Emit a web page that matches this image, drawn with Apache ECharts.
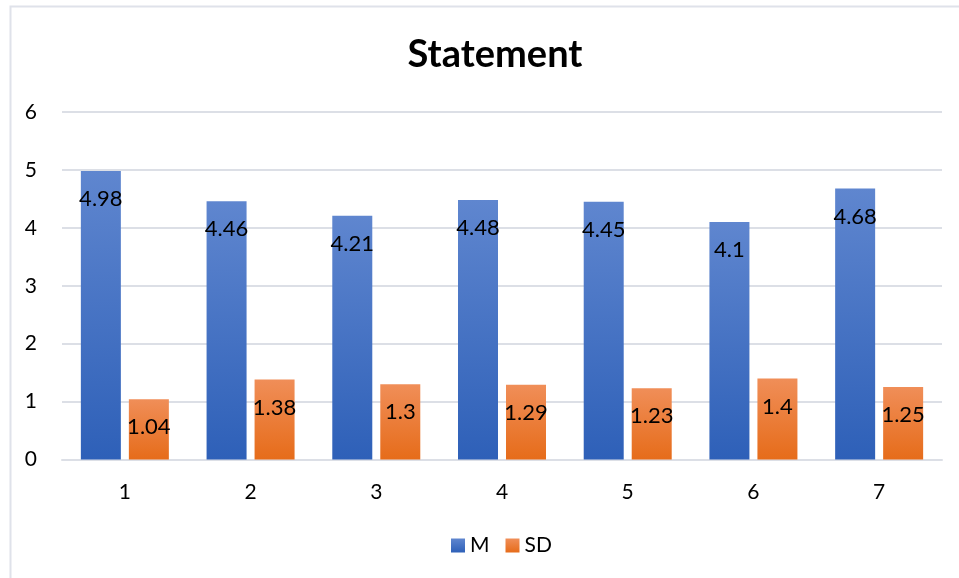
<!DOCTYPE html>
<html>
<head>
<meta charset="utf-8">
<script src="https://cdn.jsdelivr.net/npm/echarts@6/dist/echarts.min.js"></script>
<style>
  html, body { margin: 0; padding: 0; background: #fff; }
  #chart { width: 959px; height: 578px; }
</style>
</head>
<body>
<div id="chart"></div>
<script>
// Statement means and standard deviations
const categories = ['1', '2', '3', '4', '5', '6', '7'];
const meanValues = [4.98, 4.46, 4.21, 4.48, 4.45, 4.1, 4.68];
const sdValues = [1.04, 1.38, 1.3, 1.29, 1.23, 1.4, 1.25];
const seriesNames = ['M', 'SD'];

const FONT = 'Lato, "Open Sans", sans-serif';

function vGrad(top, bottom) {
  return new echarts.graphic.LinearGradient(0, 0, 0, 1, [
    { offset: 0, color: top },
    { offset: 1, color: bottom }
  ]);
}

const labelStyle = {
  show: true,
  position: 'insideTop',
  distance: 17,
  color: '#000',
  fontFamily: FONT,
  fontSize: 22
};

const chart = echarts.init(document.getElementById('chart'), null, { renderer: 'canvas' });
chart.setOption({
  backgroundColor: '#fff',
  animation: false,
  title: {
    text: 'Statement',
    left: 490,
    textAlign: 'center',
    top: 31,
    textStyle: { fontFamily: FONT, fontWeight: 'bold', fontSize: 38, color: '#000' }
  },
  graphic: [{
    type: 'rect',
    shape: { x: 10.5, y: 6.5, width: 1000, height: 1000 },
    style: { fill: 'none', stroke: '#dfe2ea', lineWidth: 2 },
    silent: true
  }],
  legend: {
    left: 446,
    top: 530,
    itemWidth: 14,
    itemHeight: 14,
    itemGap: 16,
    icon: 'rect',
    textStyle: { fontFamily: FONT, fontSize: 21, color: '#000', padding: [0, 0, 0, 0] },
    data: seriesNames
  },
  grid: { left: 62, right: 17, top: 112, bottom: 118.5, containLabel: false },
  xAxis: {
    type: 'category',
    data: categories,
    axisLine: { show: true, lineStyle: { color: '#dcdfe6', width: 2 } },
    axisTick: { show: false },
    axisLabel: { margin: 22, fontFamily: FONT, fontSize: 21, color: '#000' }
  },
  yAxis: {
    type: 'value',
    min: 0,
    max: 6,
    interval: 1,
    axisLine: { show: false },
    axisTick: { show: false },
    splitLine: { lineStyle: { color: '#dcdfe6', width: 2 } },
    axisLabel: { margin: 25, fontFamily: FONT, fontSize: 21, color: '#000' }
  },
  series: [
    {
      name: seriesNames[0],
      type: 'bar',
      data: meanValues,
      barWidth: 40,
      barGap: '20%',
      itemStyle: { color: vGrad('#5f86cf', '#2e60b8') },
      label: labelStyle
    },
    {
      name: seriesNames[1],
      type: 'bar',
      data: sdValues,
      barWidth: 40,
      itemStyle: { color: vGrad('#f08e58', '#e66c1a') },
      label: labelStyle
    }
  ]
});
</script>
</body>
</html>
